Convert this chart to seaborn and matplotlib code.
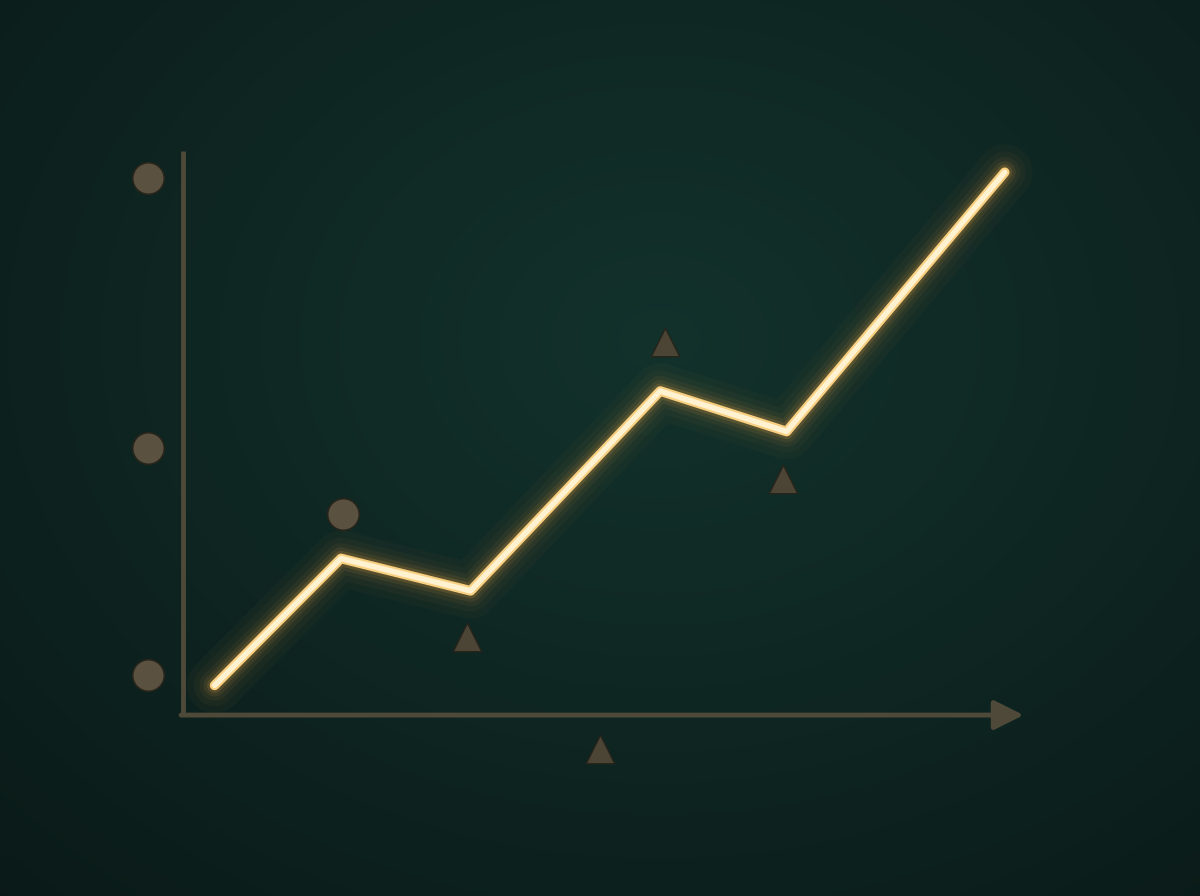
import matplotlib
matplotlib.use("Agg")
import matplotlib.pyplot as plt
import seaborn as sns
import pandas as pd
import numpy as np

# main series
x_vals = [1, 5, 9.1, 15.1, 19.1, 26.0]
y_vals = [1.1, 5.8, 4.6, 12.0, 10.5, 20.1]

# decorative markers
circle_x = [-1.1, -1.1, -1.1, 5.06]
circle_y = [19.9, 9.9, 1.5, 7.45]
tri_x = [15.25, 9.0, 19.0, 13.2]
tri_y = [13.8, 2.9, 8.75, -1.25]

df = pd.DataFrame({"x": x_vals, "y": y_vals})

sns.set_theme(style="white")
fig = plt.figure(figsize=(12, 8.96), dpi=100)

# background: dark green with soft vignette (row 0 = top of image)
bg = fig.add_axes([0, 0, 1, 1], zorder=-1)
yy, xx = np.mgrid[0:1:300j, 0:1:400j]
r = np.sqrt(((xx - 0.55) / 0.8) ** 2 + ((yy - 0.38) / 0.85) ** 2)
shade = np.clip(1 - 0.8 * r, 0, 1)
base_dark = np.array([0x08, 0x14, 0x13]) / 255
base_light = np.array([0x13, 0x32, 0x2c]) / 255
img = base_dark + (base_light - base_dark) * shade[..., None]
bg.imshow(img, aspect="auto", extent=[0, 1, 0, 1], interpolation="bilinear")
bg.set_axis_off()

ax = fig.add_axes([0, 0, 1, 1])
ax.patch.set_alpha(0)
ax.set_axis_off()

axis_col = "#4f4939"
ax.plot([0, 0], [-0.05, 20.9], color=axis_col, lw=3.5, solid_capstyle="butt")
ax.annotate("", xy=(26.6, 0), xytext=(-0.06, 0),
            arrowprops=dict(arrowstyle="-|>,head_length=1.5,head_width=0.75",
                            color=axis_col, lw=3.5, shrinkA=0, shrinkB=0))

# glow layers
for lw, a in [(40, 0.03), (30, 0.04), (22, 0.06), (16, 0.09), (11, 0.16)]:
    sns.lineplot(data=df, x="x", y="y", sort=False, ax=ax, color="#f0a545",
                 lw=lw, alpha=a, solid_joinstyle="round", solid_capstyle="round")
sns.lineplot(data=df, x="x", y="y", sort=False, ax=ax, color="#f9cf80",
             lw=7.0, solid_joinstyle="round", solid_capstyle="round")
sns.lineplot(data=df, x="x", y="y", sort=False, ax=ax, color="#fff2d0",
             lw=4.0, solid_joinstyle="round", solid_capstyle="round")

ax.scatter(circle_x, circle_y, s=520, marker="o", color="#5a5140",
           edgecolor="#26241b", linewidth=1.2, zorder=5)
ax.scatter(tri_x, tri_y, s=420, marker="^", color="#4c4535",
           edgecolor="#26241b", linewidth=1.0, zorder=5)

ax.set_xlim(-5.79, 32.18)
ax.set_ylim(-6.70, 26.48)
ax.set_xlabel("")
ax.set_ylabel("")

fig.savefig("out.png", dpi=100)
